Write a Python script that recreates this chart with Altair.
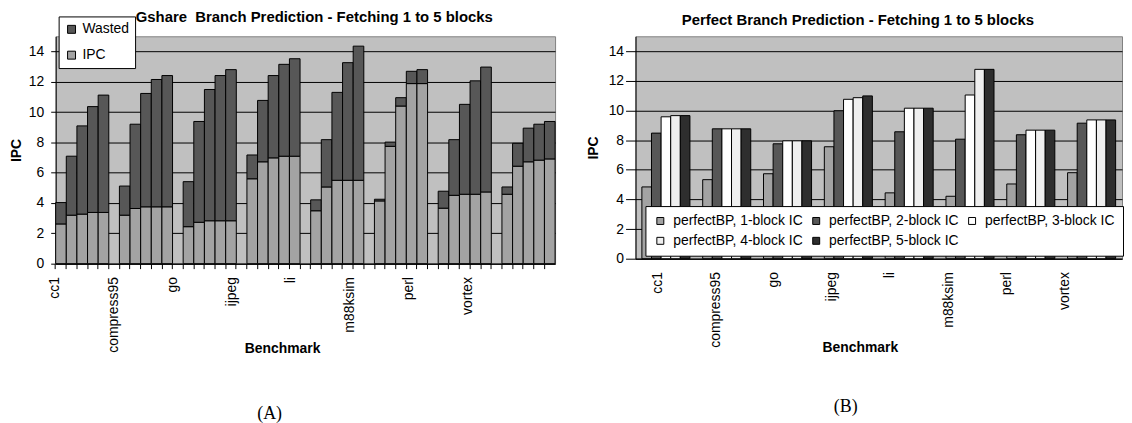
import altair as alt
import pandas as pd

benchmarks = ["cc1", "compress95", "go", "ijpeg", "li", "m88ksim", "perl", "vortex"]
block_counts = [1, 2, 3, 4, 5]

# (A) Gshare: useful IPC (lower part) for 1..5 fetched blocks, per benchmark
gshare_ipc_b1 = [2.62, 3.20, 2.44, 5.60, 3.49, 4.14, 3.66, 4.58]
gshare_ipc_b2 = [3.20, 3.64, 2.73, 6.72, 5.06, 7.74, 4.51, 6.43]
gshare_ipc_b3 = [3.27, 3.75, 2.83, 6.98, 5.50, 10.40, 4.58, 6.72]
gshare_ipc_b4 = [3.38, 3.75, 2.83, 7.09, 5.50, 11.88, 4.58, 6.83]
gshare_ipc_b5 = [3.38, 3.75, 2.83, 7.09, 5.50, 11.88, 4.73, 6.91]
# (A) Gshare: total height of stacked bar (IPC + Wasted)
gshare_total_b1 = [4.03, 5.12, 5.41, 7.17, 4.21, 4.25, 4.78, 5.06]
gshare_total_b2 = [7.09, 9.20, 9.38, 10.77, 8.18, 8.02, 8.18, 7.94]
gshare_total_b3 = [9.09, 11.23, 11.49, 12.41, 11.30, 10.95, 10.51, 8.94]
gshare_total_b4 = [10.36, 12.15, 12.41, 13.15, 13.26, 12.69, 12.06, 9.20]
gshare_total_b5 = [11.12, 12.41, 12.80, 13.52, 14.35, 12.80, 12.97, 9.38]

# (B) Perfect branch prediction IPC
perfect_b1 = [4.84, 5.33, 5.73, 7.55, 4.44, 4.21, 5.04, 5.80]
perfect_b2 = [8.47, 8.76, 7.75, 9.98, 8.56, 8.06, 8.36, 9.14]
perfect_b3 = [9.57, 8.76, 7.95, 10.75, 10.15, 11.04, 8.67, 9.36]
perfect_b4 = [9.65, 8.76, 7.95, 10.86, 10.15, 12.77, 8.67, 9.36]
perfect_b5 = [9.65, 8.76, 7.95, 10.98, 10.15, 12.77, 8.67, 9.36]

perfect_labels = ["perfectBP, %d-block IC" % k for k in block_counts]
perfect_colors = ["#a3a3a3", "#575757", "#ffffff", "#efefef", "#2e2e2e"]
gshare_series = ["Wasted", "IPC"]
gshare_colors = ["#575757", "#a3a3a3"]

FONT = "Liberation Sans"
Y_TICKS = [0, 2, 4, 6, 8, 10, 12, 14]

# ---------- build tables ----------
g_ipc = [gshare_ipc_b1, gshare_ipc_b2, gshare_ipc_b3, gshare_ipc_b4, gshare_ipc_b5]
g_tot = [gshare_total_b1, gshare_total_b2, gshare_total_b3, gshare_total_b4, gshare_total_b5]
p_all = [perfect_b1, perfect_b2, perfect_b3, perfect_b4, perfect_b5]

slot_domain = []
for i, b in enumerate(benchmarks):
    for k in block_counts:
        slot_domain.append("%s|%d" % (b, k))
    if i < len(benchmarks) - 1:
        slot_domain.append("%s|gap" % b)

rows_a = []
for i, b in enumerate(benchmarks):
    for j, k in enumerate(block_counts):
        ipc = g_ipc[j][i]
        tot = g_tot[j][i]
        slot = "%s|%d" % (b, k)
        rows_a.append({"slot": slot, "series": "IPC", "value": ipc, "ord": 0})
        rows_a.append({"slot": slot, "series": "Wasted", "value": round(tot - ipc, 3), "ord": 1})
df_a = pd.DataFrame(rows_a)

rows_b = []
for i, b in enumerate(benchmarks):
    for j, k in enumerate(block_counts):
        rows_b.append({"bench": b, "config": perfect_labels[j], "value": p_all[j][i]})
df_b = pd.DataFrame(rows_b)

df_names = pd.DataFrame({"bench": benchmarks})

# ---------- chart A ----------
bars_a = alt.Chart(df_a).mark_bar(stroke="black", strokeWidth=1).encode(
    x=alt.X("slot:N", sort=slot_domain,
            scale=alt.Scale(domain=slot_domain, paddingInner=0, paddingOuter=0),
            axis=alt.Axis(title=None, orient="bottom", labels=False, bandPosition=0,
                          tickSize=5, grid=False)),
    y=alt.Y("value:Q", stack="zero",
            scale=alt.Scale(domain=[0, 15], nice=False),
            axis=alt.Axis(title="IPC", values=Y_TICKS, tickSize=5,
                          labelPadding=7, titlePadding=5)),
    color=alt.Color("series:N", scale=alt.Scale(domain=gshare_series, range=gshare_colors),
                    legend=alt.Legend(title=None, orient="none", legendX=3, legendY=-20,
                                      fillColor="white", strokeColor="black", padding=6,
                                      symbolType="square", symbolSize=64,
                                      symbolStrokeColor="black", symbolStrokeWidth=1,
                                      labelFontSize=14, labelFont=FONT, labelOffset=4,
                                      rowPadding=12)),
    order=alt.Order("ord:Q", sort="ascending"),
)

names_a = alt.Chart(df_names).mark_point(opacity=0, size=1).encode(
    x=alt.X("bench:N", sort=benchmarks,
            scale=alt.Scale(type="point", range=[-1, 415], padding=0),
            axis=alt.Axis(title="Benchmark", orient="bottom", labelAngle=-90,
                          ticks=False, domain=False, labelPadding=13, grid=False,
                          titleX=228, titleY=85, titleBaseline="middle",
                          titleAlign="center")),
    y=alt.value(0),
)

chart_a = alt.layer(bars_a, names_a).resolve_scale(x="independent").properties(
    width=503, height=229,
    title=alt.Title("Gshare\u00a0 Branch Prediction - Fetching 1 to 5 blocks",
                    frame="group", anchor="middle", dx=9, offset=11),
)

panel_a = alt.vconcat(chart_a).properties(
    title=alt.Title("(A)", orient="bottom", font="Liberation Serif", fontSize=18,
                    fontWeight="normal", anchor="middle", dx=-13, offset=50)
)

# ---------- chart B ----------
bars_b = alt.Chart(df_b).mark_bar(stroke="black", strokeWidth=1).encode(
    x=alt.X("bench:N", sort=benchmarks,
            scale=alt.Scale(paddingInner=0.21, paddingOuter=0.105),
            axis=alt.Axis(title=None, orient="bottom", labels=False, ticks=False,
                          grid=False)),
    xOffset=alt.XOffset("config:N", sort=perfect_labels,
                        scale=alt.Scale(paddingInner=0, paddingOuter=0)),
    y=alt.Y("value:Q", scale=alt.Scale(domain=[0, 15], nice=False),
            axis=alt.Axis(title="IPC", values=Y_TICKS, tickSize=10,
                          labelPadding=2, titlePadding=8)),
    color=alt.Color("config:N", sort=perfect_labels,
                    scale=alt.Scale(domain=perfect_labels, range=perfect_colors),
                    legend=alt.Legend(title=None, orient="none", legendX=10, legendY=171,
                                      columns=3, direction="horizontal",
                                      fillColor="white", strokeColor="black", padding=8,
                                      symbolType="square", symbolSize=49,
                                      symbolStrokeColor="black", symbolStrokeWidth=1,
                                      labelFontSize=14, labelFont=FONT, labelOffset=6,
                                      rowPadding=6, columnPadding=6, labelLimit=0)),
)

names_b = alt.Chart(df_names).mark_point(opacity=0, size=1).encode(
    x=alt.X("bench:N", sort=benchmarks,
            scale=alt.Scale(type="point", range=[22, 432], padding=0),
            axis=alt.Axis(title="Benchmark", orient="bottom", labelAngle=-90,
                          ticks=False, domain=False, labelPadding=13, grid=False,
                          titleX=226, titleY=89, titleBaseline="middle",
                          titleAlign="center")),
    y=alt.value(0),
)

chart_b = alt.layer(bars_b, names_b).resolve_scale(x="independent").properties(
    width=490, height=224,
    title=alt.Title("Perfect Branch Prediction - Fetching 1 to 5 blocks",
                    frame="group", anchor="middle", dx=-21, offset=8),
)

panel_b = alt.vconcat(chart_b).properties(
    title=alt.Title("(B)", orient="bottom", font="Liberation Serif", fontSize=18,
                    fontWeight="normal", anchor="middle", dx=-9, offset=44)
)

chart = alt.hconcat(panel_a, panel_b, spacing=29).resolve_scale(
    color="independent", x="independent", y="independent", xOffset="independent"
).resolve_legend(
    color="independent"
).properties(
    padding=0
).configure_view(
    fill="#c0c0c0", stroke="#808080", strokeWidth=1
).configure_axis(
    labelFont=FONT, labelFontSize=14, labelColor="black",
    titleFont=FONT, titleFontSize=14, titleFontWeight="bold", titleColor="black",
    tickColor="black", domainColor="black", gridColor="black", gridWidth=1,
    labelOverlap=False,
).configure_title(
    font=FONT, fontSize=15, fontWeight="bold", color="black"
)

chart.save("out.html", embed_options={"renderer": "svg", "actions": False})
